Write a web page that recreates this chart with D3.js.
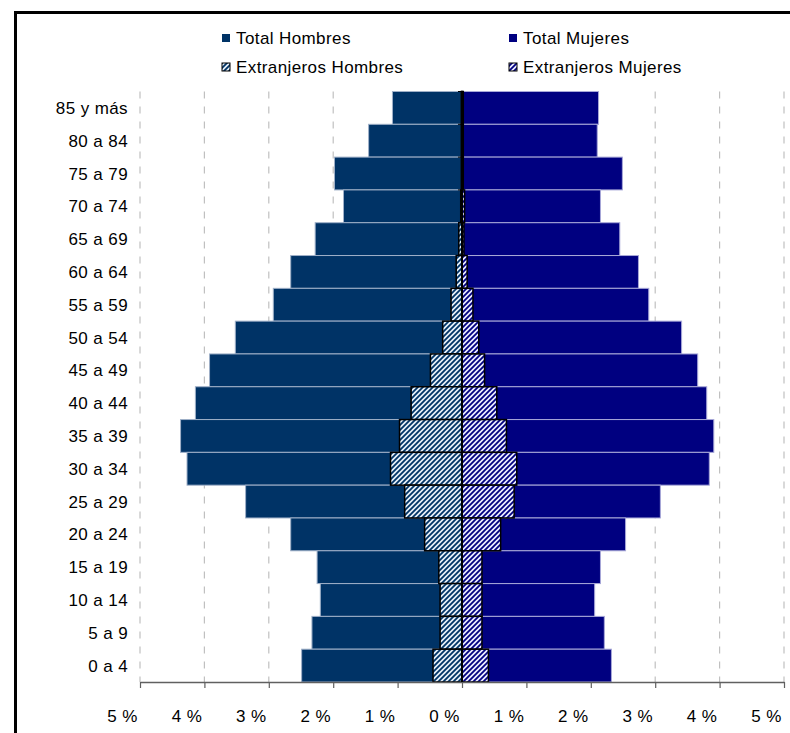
<!DOCTYPE html>
<html>
<head>
<meta charset="utf-8">
<script src="https://cdn.jsdelivr.net/npm/d3@7/dist/d3.min.js"></script>
<style>
  html, body { margin: 0; padding: 0; background: #fff; }
  svg { display: block; }
  text { font-family: "Liberation Sans", Arial, sans-serif; fill: #000; }
</style>
</head>
<body>
<svg id="chart" width="790" height="733"></svg>
<script>
const categories = ["85 y más","80 a 84","75 a 79","70 a 74","65 a 69","60 a 64","55 a 59","50 a 54","45 a 49","40 a 44","35 a 39","30 a 34","25 a 29","20 a 24","15 a 19","10 a 14","5 a 9","0 a 4"];
const totalHombres = [1.08,1.45,1.98,1.84,2.28,2.66,2.93,3.52,3.92,4.14,4.37,4.27,3.36,2.66,2.25,2.20,2.33,2.49];
const totalMujeres = [2.12,2.10,2.49,2.15,2.45,2.74,2.90,3.41,3.66,3.80,3.91,3.84,3.08,2.54,2.15,2.06,2.21,2.32];
const extranjerosHombres = [0.01,0.01,0.01,0.02,0.05,0.09,0.17,0.30,0.49,0.79,0.97,1.11,0.89,0.58,0.36,0.34,0.34,0.45];
const extranjerosMujeres = [0.02,0.02,0.02,0.04,0.03,0.08,0.17,0.26,0.35,0.54,0.69,0.85,0.81,0.60,0.31,0.31,0.31,0.41];
const xTicks = [-5,-4,-3,-2,-1,0,1,2,3,4,5];
const legendLabels = ["Total Hombres","Total Mujeres","Extranjeros Hombres","Extranjeros Mujeres"];

const colH = "#003366", colM = "#000080";
const FS = "17px", LS = "0.4px";
const svg = d3.select("#chart");

// frame
svg.append("rect").attr("x",15.5).attr("y",12.5).attr("width",800).attr("height",760)
  .attr("fill","none").attr("stroke","#000").attr("stroke-width",3);

const defs = svg.append("defs");
function stripe(id, color, bg) {
  const p = defs.append("pattern").attr("id", id).attr("patternUnits","userSpaceOnUse")
    .attr("width",5).attr("height",5);
  p.append("rect").attr("width",5).attr("height",5).attr("fill",bg);
  p.append("path").attr("d","M-1.25,1.25 l2.5,-2.5 M0,5 l5,-5 M3.75,6.25 l2.5,-2.5")
    .attr("stroke",color).attr("stroke-width",1.8);
}
stripe("pH", colH, "#e8f0f8");
stripe("pM", colM, "#ececff");

const x = d3.scaleLinear().domain([-5,5]).range([140,784]);
const y = d3.scaleBand().domain(categories).range([91.5,682]).padding(0);

// gridlines
svg.append("g").selectAll("line").data(xTicks.filter(d => d !== 0)).join("line")
  .attr("x1", d => x(d)).attr("x2", d => x(d)).attr("y1", 91.5).attr("y2", 682)
  .attr("stroke","#c0c0c0").attr("stroke-width",1.2).attr("stroke-dasharray","7,8");

// total bars
svg.append("g").selectAll("rect").data(categories).join("rect")
  .attr("x", (d,i) => x(-totalHombres[i])).attr("y", d => y(d))
  .attr("width", (d,i) => x(0) - x(-totalHombres[i])).attr("height", y.bandwidth())
  .attr("fill", colH).attr("stroke","#9fb0c8").attr("stroke-width",1);
svg.append("g").selectAll("rect").data(categories).join("rect")
  .attr("x", x(0)).attr("y", d => y(d))
  .attr("width", (d,i) => x(totalMujeres[i]) - x(0)).attr("height", y.bandwidth())
  .attr("fill", colM).attr("stroke","#a8a8d8").attr("stroke-width",1);

// foreign bars
svg.append("g").selectAll("rect").data(categories).join("rect")
  .attr("x", (d,i) => x(-extranjerosHombres[i])).attr("y", d => y(d))
  .attr("width", (d,i) => x(0) - x(-extranjerosHombres[i])).attr("height", y.bandwidth())
  .attr("fill", "url(#pH)").attr("stroke","#000").attr("stroke-width",1.5);
svg.append("g").selectAll("rect").data(categories).join("rect")
  .attr("x", x(0)).attr("y", d => y(d))
  .attr("width", (d,i) => x(extranjerosMujeres[i]) - x(0)).attr("height", y.bandwidth())
  .attr("fill", "url(#pM)").attr("stroke","#000").attr("stroke-width",1.5);

// x axis
const xAxis = svg.append("g").attr("transform","translate(0,682)")
  .call(d3.axisBottom(x).tickValues(xTicks).tickSize(6).tickSizeOuter(0)
    .tickFormat(d => Math.abs(d) + " %"));
xAxis.select(".domain").attr("stroke","#606060").attr("stroke-width",1.5);
xAxis.selectAll(".tick line").attr("stroke","#606060").attr("stroke-width",1.2);
xAxis.selectAll(".tick text").attr("dx",-18).attr("dy","1.8em")
  .style("font-size",FS).style("letter-spacing",LS)
  .style("font-family","'Liberation Sans', Arial, sans-serif").attr("fill","#000");

// y axis at zero
const yAxis = svg.append("g").attr("transform",`translate(${x(0)},0)`);
yAxis.append("line").attr("x1",0).attr("x2",0).attr("y1",91.5).attr("y2",682)
  .attr("stroke","#000").attr("stroke-width",2);
yAxis.selectAll("line.t").data(categories).join("line").attr("class","t")
  .attr("x1",-4).attr("x2",0).attr("y1", d => y(d)).attr("y2", d => y(d))
  .attr("stroke","#000").attr("stroke-width",1);

// category labels
svg.append("g").selectAll("text").data(categories).join("text")
  .attr("x",128).attr("y", d => y(d) + y.bandwidth()/2).attr("dy","0.36em")
  .attr("text-anchor","end").style("font-size",FS).style("letter-spacing",LS)
  .text(d => d);

// legend
const legendPos = [[222,38],[509,38],[222,67],[509,67]];
const legendFill = [colH, colM, "url(#pH)", "url(#pM)"];
const lg = svg.append("g");
legendLabels.forEach((lab,i) => {
  const [lx,ly] = legendPos[i];
  lg.append("rect").attr("x",lx).attr("y",ly-4).attr("width",8).attr("height",8)
    .attr("fill",legendFill[i]).attr("stroke", i<2 ? "none" : "#000").attr("stroke-width",1);
  lg.append("text").attr("x",lx+14).attr("y",ly).attr("dy","0.36em")
    .style("font-size",FS).style("letter-spacing",LS).text(lab);
});
</script>
</body>
</html>
